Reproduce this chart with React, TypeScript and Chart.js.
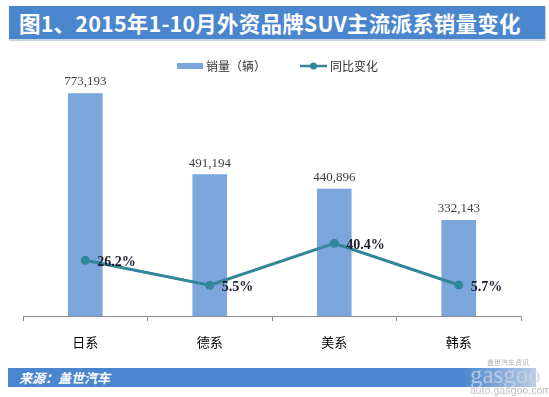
import React, { useEffect, useRef } from "react";
import { Chart, registerables } from "chart.js";

Chart.register(...registerables);

const categories = ["日系", "德系", "美系", "韩系"];
const sales = [773193, 491194, 440896, 332143];
const growth = [26.2, 5.5, 40.4, 5.7];
const salesLabel = "销量（辆）";
const growthLabel = "同比变化";
const titleText = "图1、2015年1-10月外资品牌SUV主流派系销量变化";
const sourceText = "来源：盖世汽车";

const BAR_COLOR = "#7BA6DC";
const LINE_COLOR = "#31869B";
const BANNER = "#4A86CE";
const CJK = '"Noto Sans CJK SC", "Noto Sans", sans-serif';

const labelPlugin = {
  id: "labels",
  afterDatasetsDraw(chart: any) {
    const ctx = chart.ctx;
    ctx.save();
    const barMeta = chart.getDatasetMeta(0);
    ctx.font = '13px "Liberation Serif", serif';
    ctx.fillStyle = "#404040";
    ctx.textAlign = "center";
    ctx.textBaseline = "bottom";
    barMeta.data.forEach((el: any, i: number) => {
      ctx.fillText(sales[i].toLocaleString("en-US"), el.x, el.y - 5);
    });
    const lineMeta = chart.getDatasetMeta(1);
    ctx.font = 'bold 14px "Liberation Serif", serif';
    ctx.fillStyle = "#1b1b2f";
    ctx.textAlign = "left";
    ctx.textBaseline = "middle";
    lineMeta.data.forEach((el: any, i: number) => {
      ctx.fillText(growth[i].toFixed(1) + "%", el.x + 12, el.y + 2);
    });
    ctx.restore();
  },
  afterDraw(chart: any) {
    const ctx = chart.ctx;
    ctx.save();
    // legend
    ctx.fillStyle = BAR_COLOR;
    ctx.fillRect(177, 63, 26, 6);
    ctx.font = "12px " + CJK;
    ctx.fillStyle = "#333";
    ctx.textAlign = "left";
    ctx.textBaseline = "middle";
    ctx.fillText(salesLabel, 206, 66);
    ctx.strokeStyle = LINE_COLOR;
    ctx.lineWidth = 2.5;
    ctx.beginPath();
    ctx.moveTo(300, 66);
    ctx.lineTo(327, 66);
    ctx.stroke();
    ctx.fillStyle = LINE_COLOR;
    ctx.beginPath();
    ctx.arc(313.5, 66, 3.5, 0, Math.PI * 2);
    ctx.fill();
    ctx.fillStyle = "#333";
    ctx.fillText(growthLabel, 330, 66);
    ctx.restore();
  },
};

function ChartBox() {
  const ref = useRef<HTMLCanvasElement | null>(null);
  useEffect(() => {
    if (!ref.current) return;
    const chart = new Chart(ref.current, {
      type: "bar",
      data: {
        labels: categories,
        datasets: [
          {
            type: "bar",
            label: salesLabel,
            data: sales,
            backgroundColor: BAR_COLOR,
            barThickness: 34,
            yAxisID: "y",
            order: 2,
          } as any,
          {
            type: "line",
            label: growthLabel,
            data: growth,
            borderColor: LINE_COLOR,
            backgroundColor: LINE_COLOR,
            borderWidth: 3,
            pointRadius: 4.5,
            pointBackgroundColor: LINE_COLOR,
            pointBorderWidth: 0,
            tension: 0,
            yAxisID: "y2",
            order: 1,
          } as any,
        ],
      },
      options: {
        responsive: false,
        animation: false,
        layout: { padding: { left: 23, right: 28, top: 57, bottom: 41 } },
        plugins: { legend: { display: false }, tooltip: { enabled: false } },
        scales: {
          x: {
            grid: {
              drawOnChartArea: false,
              drawTicks: true,
              tickLength: 5,
              color: "#8c8c8c",
              offset: true,
            },
            border: { display: true, color: "#8c8c8c", width: 1 },
            ticks: {
              color: "#000",
              font: { family: CJK, size: 13 },
              padding: 13,
            },
            afterFit: (scale: any) => {
              scale.height = 40;
            },
          },
          y: { display: false, min: 0, max: 900000 },
          y2: { display: false, min: -20, max: 195 },
        },
      } as any,
      plugins: [labelPlugin],
    });
    return () => chart.destroy();
  }, []);
  return (
    <canvas
      ref={ref}
      width={549}
      height={397}
      style={{ position: "absolute", left: 0, top: 0, width: 549, height: 397 }}
    />
  );
}

export default function App() {
  return (
    <div
      style={{
        position: "fixed",
        left: 0,
        top: 0,
        width: 549,
        height: 397,
        background: "#fff",
        overflow: "hidden",
      }}
    >
      <ChartBox />
      <div
        style={{
          position: "absolute",
          left: 9,
          top: 6,
          width: 537,
          height: 35,
          background: BANNER,
          borderBottom: "2px solid #c9d4e2",
          borderRight: "1px solid #c9d4e2",
          boxSizing: "border-box",
          color: "#fff",
          fontFamily: CJK,
          fontWeight: 700,
          fontSize: 21.5,
          lineHeight: "33px",
          paddingLeft: 10,
          letterSpacing: 0.2,
          whiteSpace: "nowrap",
        }}
      >
        {titleText}
      </div>
      <div
        style={{
          position: "absolute",
          left: 8,
          top: 368,
          width: 528,
          height: 19,
          background: `linear-gradient(to right, ${BANNER} 0%, ${BANNER} 86%, #b9cde6 100%)`,
          color: "#fff",
          fontFamily: CJK,
          fontWeight: 700,
          fontStyle: "italic",
          fontSize: 13,
          lineHeight: "19px",
          paddingLeft: 11,
          boxSizing: "border-box",
          whiteSpace: "nowrap",
        }}
      >
        {sourceText}
      </div>
      <div
        style={{
          position: "absolute",
          left: 487,
          top: 357,
          fontFamily: CJK,
          fontSize: 7,
          color: "#b5b5b5",
          whiteSpace: "nowrap",
        }}
      >
        盖世汽车资讯
      </div>
      <div
        style={{
          position: "absolute",
          left: 470,
          top: 361,
          fontFamily: '"Liberation Serif", serif',
          fontSize: 25,
          color: "rgba(205,212,225,0.75)",
          whiteSpace: "nowrap",
        }}
      >
        gasgoo
      </div>
      <div
        style={{
          position: "absolute",
          left: 470,
          top: 385,
          fontFamily: '"Liberation Sans", sans-serif',
          fontSize: 10,
          letterSpacing: 0.3,
          color: "#bdbdbd",
          whiteSpace: "nowrap",
        }}
      >
        auto.gasgoo.com
      </div>
    </div>
  );
}
